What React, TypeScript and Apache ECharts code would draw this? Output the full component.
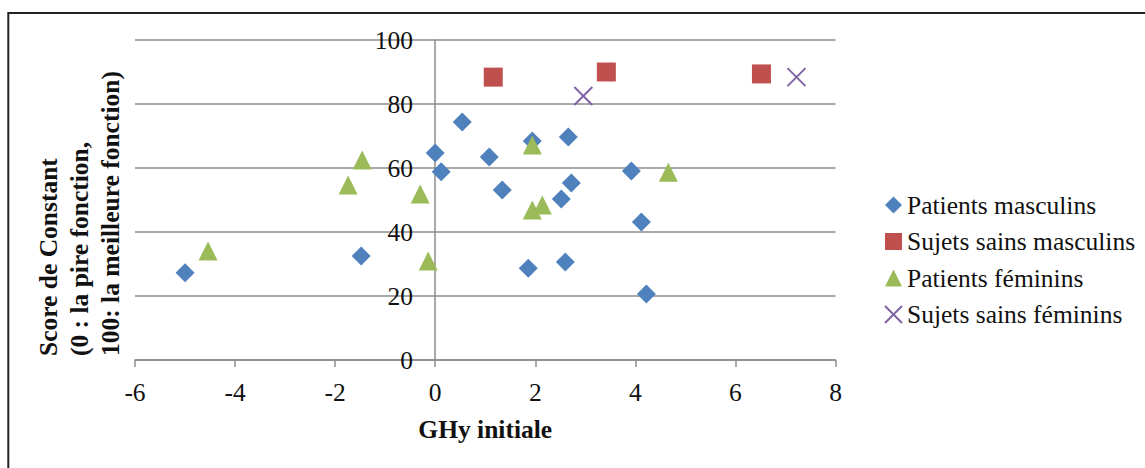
import React, { useEffect, useRef } from "react";
import * as echarts from "echarts";

const seriesNames = [
  "Patients masculins",
  "Sujets sains masculins",
  "Patients féminins",
  "Sujets sains féminins",
];

const patientsMasculins: [number, number][] = [
  [-5.0, 27.3], [-1.48, 32.5], [0.0, 64.7], [0.12, 58.8], [0.54, 74.4],
  [1.08, 63.4], [1.34, 53.1], [1.94, 68.4], [2.66, 69.7], [2.72, 55.3],
  [2.52, 50.3], [1.86, 28.7], [2.6, 30.6], [3.92, 59.1], [4.12, 43.1],
  [4.22, 20.6],
];
const sujetsSainsMasculins: [number, number][] = [
  [1.16, 88.4], [3.42, 90.0], [6.52, 89.4],
];
const patientsFeminins: [number, number][] = [
  [-4.54, 34.1], [-1.74, 54.7], [-1.46, 62.5], [-0.3, 51.9], [-0.14, 30.9],
  [1.94, 67.2], [1.94, 46.9], [2.14, 48.4], [4.66, 58.7],
];
const sujetsSainsFeminins: [number, number][] = [
  [2.96, 82.5], [7.22, 88.4],
];

const xTicks = { min: -6, max: 8, interval: 2 };
const yTicks = { min: 0, max: 100, interval: 20 };

const xTitle = "GHy initiale";
const yTitleLines = [
  "Score de Constant",
  "(0 : la pire fonction,",
  "100: la meilleure fonction)",
];

const FONT = "Liberation Serif";
const FS = 25.5;
const GRID_GRAY = "#8c8c8c";

export default function App() {
  const ref = useRef<HTMLDivElement>(null);
  useEffect(() => {
    if (!ref.current) return;
    const chart = echarts.init(ref.current, undefined, { renderer: "svg" });
    chart.setOption({
      animation: false,
      backgroundColor: "#ffffff",
      grid: { left: 135, right: 309.5, top: 40, bottom: 108 },
      xAxis: {
        type: "value",
        min: xTicks.min,
        max: xTicks.max,
        interval: xTicks.interval,
        splitLine: { show: false },
        axisLine: { onZero: false, lineStyle: { color: GRID_GRAY, width: 1.5 } },
        axisTick: { show: true, inside: false, length: 7, lineStyle: { color: GRID_GRAY, width: 1.5 } },
        axisLabel: { margin: 19, fontSize: FS, fontFamily: FONT, color: "#111" },
        name: xTitle,
        nameLocation: "middle",
        nameGap: 56,
        nameTextStyle: { fontSize: FS, fontWeight: "bold", fontFamily: FONT, color: "#111" },
      },
      yAxis: {
        type: "value",
        min: yTicks.min,
        max: yTicks.max,
        interval: yTicks.interval,
        offset: -300,
        splitLine: { show: true, lineStyle: { color: GRID_GRAY, width: 1.5 } },
        axisLine: { show: true, onZero: false, lineStyle: { color: GRID_GRAY, width: 1.5 } },
        axisTick: { show: false },
        axisLabel: { margin: 22, fontSize: FS, fontFamily: FONT, color: "#111" },
      },
      legend: {
        orient: "vertical",
        left: 879,
        top: 187,
        itemWidth: 17,
        itemHeight: 17,
        itemGap: 10.5,
        textStyle: { fontSize: FS, fontFamily: FONT, color: "#111" },
        data: seriesNames,
      },
      graphic: [
        {
          type: "rect",
          shape: { x: 8.3, y: 13, width: 1300, height: 600 },
          style: { fill: "none", stroke: "#222", lineWidth: 2 },
          silent: true,
        },
        {
          type: "text",
          x: 33,
          y: 356,
          rotation: Math.PI / 2,
          style: {
            text: yTitleLines.join("\n"),
            fontSize: FS,
            fontWeight: "bold",
            fontFamily: FONT,
            fill: "#111",
            lineHeight: 31,
            align: "left",
            verticalAlign: "top",
          },
        },
      ],
      series: [
        {
          name: seriesNames[0],
          type: "scatter",
          symbol: "diamond",
          symbolSize: 19,
          itemStyle: { color: "#4F81BD", opacity: 1 },
          data: patientsMasculins,
        },
        {
          name: seriesNames[1],
          type: "scatter",
          symbol: "rect",
          symbolSize: 19,
          itemStyle: { color: "#C0504D", opacity: 1 },
          data: sujetsSainsMasculins,
        },
        {
          name: seriesNames[2],
          type: "scatter",
          symbol: "triangle",
          symbolSize: 19,
          itemStyle: { color: "#9BBB59", opacity: 1 },
          data: patientsFeminins,
        },
        {
          name: seriesNames[3],
          type: "scatter",
          symbol: "path://M0,0L20,20M20,0L0,20",
          symbolSize: 18,
          itemStyle: { color: "#8064A2", borderColor: "#8064A2", borderWidth: 2, opacity: 1 },
          data: sujetsSainsFeminins,
        },
      ],
    });
    return () => chart.dispose();
  }, []);
  return (
    <div
      ref={ref}
      style={{ position: "fixed", left: 0, top: 0, width: 1145, height: 468 }}
    />
  );
}
